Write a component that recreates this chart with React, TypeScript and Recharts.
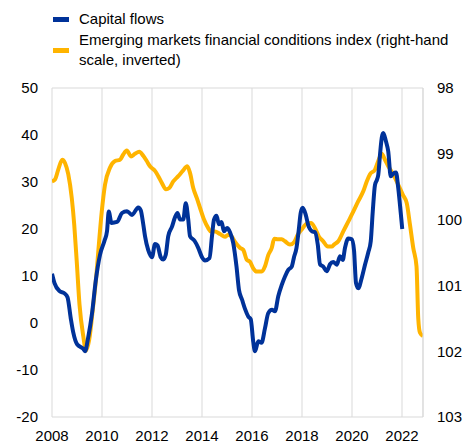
import React from 'react';
import { LineChart, Line, XAxis, YAxis, CartesianGrid } from 'recharts';

// capital flows (left-hand scale)
const flowYears = [
    2008.0, 2008.1, 2008.3, 2008.5, 2008.62, 2008.75, 2008.85, 2009.0, 2009.25, 2009.32,
    2009.45, 2009.6, 2009.75, 2009.92, 2010.1, 2010.2, 2010.27, 2010.38, 2010.6, 2010.8,
    2011.0, 2011.2, 2011.45, 2011.55, 2011.65, 2011.72, 2011.85, 2012.0, 2012.12, 2012.22,
    2012.35, 2012.45, 2012.55, 2012.65, 2012.8, 2012.92, 2013.02, 2013.12, 2013.25, 2013.35,
    2013.45, 2013.52, 2013.7, 2013.85, 2014.0, 2014.12, 2014.3, 2014.4, 2014.48, 2014.58,
    2014.68, 2014.78, 2014.88, 2015.0, 2015.12, 2015.25, 2015.38, 2015.48, 2015.6, 2015.72,
    2015.85, 2015.95, 2016.05, 2016.12, 2016.25, 2016.38, 2016.52, 2016.65, 2016.8, 2016.92,
    2017.05, 2017.19, 2017.32, 2017.45, 2017.59, 2017.68, 2017.78, 2017.87, 2017.95, 2018.03,
    2018.15, 2018.25, 2018.4, 2018.52, 2018.63, 2018.72, 2018.85, 2018.99, 2019.12, 2019.25,
    2019.39, 2019.52, 2019.63, 2019.72, 2019.85, 2019.99, 2020.08, 2020.16, 2020.25, 2020.39,
    2020.52, 2020.65, 2020.75, 2020.83, 2020.92, 2021.0, 2021.05, 2021.12, 2021.19, 2021.25,
    2021.36, 2021.45, 2021.55, 2021.65, 2021.76, 2021.85, 2021.95, 2022.01,
];
const flowValues = [
    10.5, 8.5, 6.8, 6.3, 5.5, 1.0, -2.0, -4.5, -5.5, -6.0,
    -3.0, 2.0, 9.0, 14.5, 17.5, 19.5, 23.7, 21.3, 21.5, 23.4,
    23.8, 23.0, 24.6, 24.0, 21.0, 18.5, 15.5, 14.0, 16.8, 16.5,
    14.0, 13.5, 14.5, 18.5, 20.5, 22.5, 23.4, 22.0, 22.0, 25.5,
    22.0, 18.5, 17.5, 16.0, 14.0, 13.3, 13.8, 18.5, 22.0, 22.8,
    21.0, 21.5, 19.5, 20.2, 19.3, 17.0, 12.0, 7.0, 5.0, 3.0,
    1.4, 0.8, -4.0, -6.0, -3.9, -4.2, -1.1, 2.1, 2.8, 2.5,
    5.7, 8.1, 9.9, 11.3, 12.0, 14.0, 16.0, 19.8, 23.5, 24.5,
    23.0, 20.8, 19.5, 19.3, 16.7, 12.5, 12.0, 11.0, 12.5, 13.0,
    12.4, 14.2, 13.4, 16.0, 18.0, 17.8, 15.5, 8.5, 7.4, 9.6,
    12.4, 15.0, 17.4, 23.7, 29.4, 30.5, 31.5, 35.8, 39.4, 40.4,
    38.6, 36.5, 31.2, 31.8, 32.0, 28.7, 23.4, 20.0,
];

// EM financial conditions index (right-hand scale, inverted)
const fciYears = [
    2008.0, 2008.12, 2008.25, 2008.41, 2008.52, 2008.65, 2008.79, 2008.89, 2008.99, 2009.1,
    2009.25, 2009.36, 2009.49, 2009.63, 2009.78, 2009.85, 2009.99, 2010.12, 2010.32, 2010.52,
    2010.72, 2010.85, 2010.99, 2011.16, 2011.32, 2011.49, 2011.65, 2011.79, 2011.92, 2012.12,
    2012.25, 2012.39, 2012.56, 2012.69, 2012.85, 2013.05, 2013.23, 2013.41, 2013.52, 2013.65,
    2013.79, 2013.92, 2014.08, 2014.25, 2014.35, 2014.52, 2014.72, 2014.92, 2015.05, 2015.19,
    2015.32, 2015.52, 2015.65, 2015.79, 2015.92, 2016.05, 2016.19, 2016.39, 2016.52, 2016.65,
    2016.79, 2016.89, 2017.03, 2017.19, 2017.32, 2017.52, 2017.69, 2017.83, 2017.99, 2018.19,
    2018.36, 2018.52, 2018.68, 2018.85, 2019.03, 2019.19, 2019.28, 2019.45, 2019.65, 2019.85,
    2020.05, 2020.25, 2020.45, 2020.59, 2020.72, 2020.92, 2021.05, 2021.19, 2021.32, 2021.45,
    2021.65, 2021.85, 2022.03, 2022.19, 2022.32, 2022.45, 2022.58, 2022.65, 2022.72, 2022.84,
];
const fciValues = [
    99.42, 99.39, 99.24, 99.09, 99.14, 99.31, 99.67, 100.08, 100.64, 101.29,
    101.77, 101.99, 101.82, 101.37, 100.82, 100.49, 99.88, 99.47, 99.21, 99.11,
    99.09, 99.01, 98.95, 99.04, 99.0, 98.97, 99.03, 99.11, 99.19, 99.26,
    99.34, 99.44, 99.54, 99.52, 99.42, 99.34, 99.26, 99.19, 99.29, 99.52,
    99.67, 99.82, 100.0, 100.13, 100.18, 100.18, 100.22, 100.26, 100.23, 100.26,
    100.34, 100.43, 100.46, 100.61, 100.64, 100.74, 100.79, 100.79, 100.71, 100.54,
    100.43, 100.29, 100.3, 100.3, 100.33, 100.38, 100.34, 100.23, 100.15, 100.06,
    100.05, 100.13, 100.26, 100.33, 100.41, 100.41, 100.38, 100.33, 100.18, 100.03,
    99.88, 99.72, 99.57, 99.42, 99.31, 99.24, 99.11, 99.0, 99.09, 99.19,
    99.31, 99.47, 99.62, 99.75, 100.08, 100.43, 100.71, 101.5, 101.72, 101.77,
];

const yearTicks = [2008, 2010, 2012, 2014, 2016, 2018, 2020, 2022];
const leftTicks = [-20, -10, 0, 10, 20, 30, 40, 50];
const rightTicks = [98, 99, 100, 101, 102, 103];

const BLUE = '#003299';
const YELLOW = '#ffb400';
const FONT = '"Liberation Sans", Arial, sans-serif';

const data = [
    ...flowYears.map((t, i) => ({ t, flows: flowValues[i] })),
    ...fciYears.map((t, i) => ({ t, fci: fciValues[i] })),
].sort((a, b) => a.t - b.t);

const tickStyle = { fontSize: 15, fill: '#000', fontFamily: FONT };

const LegendRow = ({ color, top, children }: { color: string, top: number, children: React.ReactNode }) => (
    <div style={{ position: 'absolute', left: 53, top, display: 'flex', alignItems: 'center' }}>
        <div style={{ width: 16, height: 5, background: color, flexShrink: 0 }} />
        <div style={{ marginLeft: 10, fontSize: 15, lineHeight: '20px', color: '#000', fontFamily: FONT }}>
            {children}
        </div>
    </div>
);

export default function App() {
    return (
        <div style={{ position: 'absolute', left: 0, top: 0, width: 470, height: 445, background: '#fff' }}>
            <LegendRow color={BLUE} top={9}>Capital flows</LegendRow>
            <LegendRow color={YELLOW} top={30}>
                Emerging markets financial conditions index (right-hand<br />scale, inverted)
            </LegendRow>
            <LineChart width={470} height={445} data={data} margin={{ top: 88, right: 0, bottom: 0, left: 0 }}>
                <CartesianGrid stroke="#d9d9d9" strokeWidth={1} />
                <XAxis
                    dataKey="t"
                    type="number"
                    domain={[2008, 2022.84]}
                    allowDataOverflow
                    ticks={yearTicks}
                    height={28}
                    tickSize={0}
                    tickMargin={13}
                    axisLine={false}
                    tick={tickStyle}
                />
                <YAxis
                    yAxisId="left"
                    domain={[-20, 50]}
                    ticks={leftTicks}
                    width={52}
                    tickSize={0}
                    tickMargin={14}
                    axisLine={false}
                    tick={tickStyle}
                />
                <YAxis
                    yAxisId="right"
                    orientation="right"
                    domain={[98, 103]}
                    ticks={rightTicks}
                    reversed
                    width={47}
                    tickSize={0}
                    tickMargin={14}
                    axisLine={{ stroke: '#d9d9d9' }}
                    tick={tickStyle}
                />
                <Line yAxisId="right" type="monotone" dataKey="fci" stroke={YELLOW} strokeWidth={4}
                    dot={false} connectNulls isAnimationActive={false} />
                <Line yAxisId="left" type="monotone" dataKey="flows" stroke={BLUE} strokeWidth={4}
                    dot={false} connectNulls isAnimationActive={false} />
            </LineChart>
        </div>
    );
}
